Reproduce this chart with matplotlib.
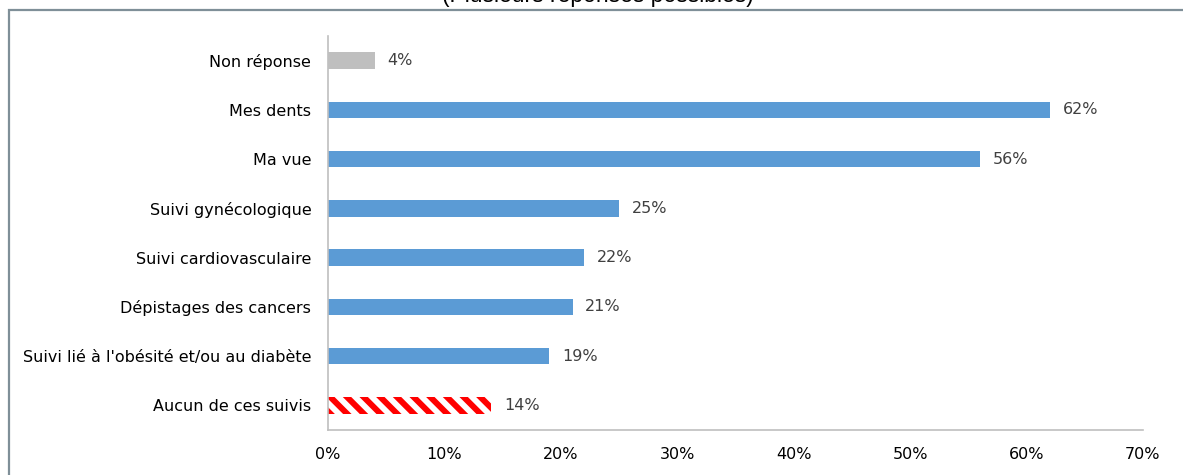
import matplotlib
matplotlib.use("Agg")
import matplotlib.pyplot as plt
from matplotlib.patches import Rectangle

categories = ["Non réponse", "Mes dents", "Ma vue", "Suivi gynécologique",
              "Suivi cardiovasculaire", "Dépistages des cancers",
              "Suivi lié à l'obésité et/ou au diabète", "Aucun de ces suivis"]
values = [4, 62, 56, 25, 22, 21, 19, 14]
xticks = [0, 10, 20, 30, 40, 50, 60, 70]
xtick_labels = ["0%", "10%", "20%", "30%", "40%", "50%", "60%", "70%"]
title = "(Plusieurs réponses possibles)"

plt.rcParams['font.family'] = ['DejaVu Sans']
plt.rcParams['hatch.linewidth'] = 4.3

W, H = 1183, 475
fig = plt.figure(figsize=(W / 100, H / 100), dpi=100)
ax = fig.add_axes([328 / W, 1 - 430 / H, (1143 - 328) / W, (430 - 36) / H])

n = len(categories)
ypos = [n - 1 - i for i in range(n)]
colors = []
for i, c in enumerate(categories):
    if i == 0:
        colors.append("#BFBFBF")
    else:
        colors.append("#5B9BD5")

fs = 11.5
bar_h = 0.33
for i, (c, v, y) in enumerate(zip(categories, values, ypos)):
    if i == n - 1:
        ax.barh(y, v, height=bar_h, facecolor="white", edgecolor="#FF0000",
                hatch="\\\\", linewidth=0)
    else:
        ax.barh(y, v, height=bar_h, color=colors[i], linewidth=0)
    ax.text(v + 1.1, y, f"{v}%", va="center", ha="left", fontsize=fs,
            color="#404040")

ax.set_xlim(0, 70)
ax.set_ylim(-0.5, n - 0.5)
ax.set_yticks(ypos)
ax.set_yticklabels(categories, fontsize=fs, color="black")
ax.set_xticks(xticks)
ax.set_xticklabels(xtick_labels, fontsize=fs, color="black")
ax.tick_params(axis="y", length=0, pad=12)
ax.tick_params(axis="x", length=0, pad=12)
for s in ["top", "right"]:
    ax.spines[s].set_visible(False)
for s in ["left", "bottom"]:
    ax.spines[s].set_color("#BFBFBF")
    ax.spines[s].set_linewidth(1.2)

frame = Rectangle((8.5 / W, -0.1), 1.2, 1 - 9.5 / H + 0.1, transform=fig.transFigure,
                  fill=False, edgecolor="#7F8F98", linewidth=1.6, clip_on=False)
fig.patches.append(frame)

fig.text(598 / W, 1 - 2 / H, title, ha="center", va="baseline", fontsize=16.5,
         family=["Liberation Sans"], color="black")

fig.savefig("out.png", dpi=100)
